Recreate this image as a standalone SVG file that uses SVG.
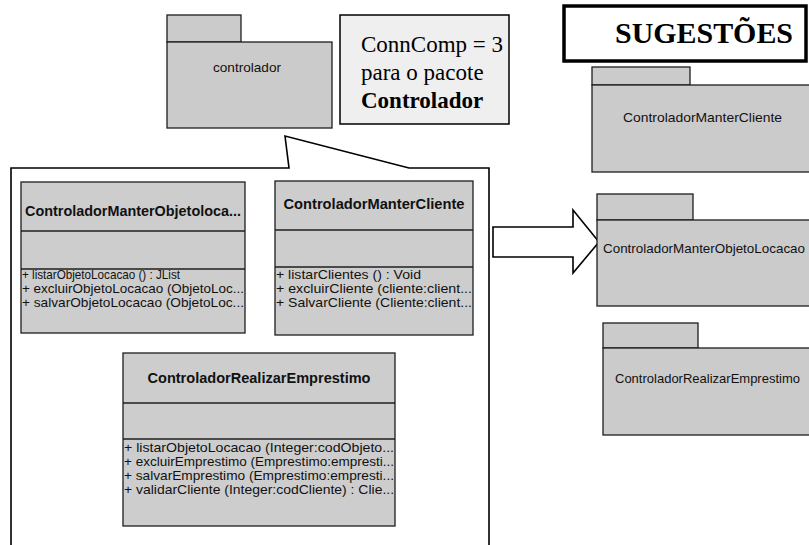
<svg xmlns="http://www.w3.org/2000/svg" width="809" height="545" viewBox="0 0 809 545">
  <style>
    .bg { fill: #ffffff; }
    .pkg { fill: #cbcbcb; stroke: #1e1e1e; stroke-width: 1.3; }
    .cls { fill: #cdcdcd; stroke: #1e1e1e; stroke-width: 1.3; }
    .sep { stroke: #1e1e1e; stroke-width: 1.3; }
    .line { fill: none; stroke: #000; stroke-width: 1.6; stroke-linejoin: miter; }
    .ui { font-family: "Liberation Sans", Arial, sans-serif; font-size: 13px; fill: #111; }
    .uib { font-family: "Liberation Sans", Arial, sans-serif; font-size: 14px; font-weight: bold; fill: #111; }
    .serif { font-family: "Liberation Serif", "Times New Roman", serif; fill: #000; }
  </style>

  <rect class="bg" x="0" y="0" width="809" height="545"/>

  <!-- package "controlador" -->
  <g id="pkg-controlador">
    <rect class="pkg" x="167" y="15" width="74" height="27"/>
    <rect class="pkg" x="167" y="42" width="165" height="86"/>
    <text class="ui" x="213" y="72" textLength="68" lengthAdjust="spacingAndGlyphs">controlador</text>
  </g>

  <!-- note box -->
  <g id="note-conncomp">
    <rect x="340" y="15" width="169" height="109" fill="#efefef" stroke="#000" stroke-width="1.5"/>
    <text class="serif" x="361" y="52" font-size="23">ConnComp = 3</text>
    <text class="serif" x="361" y="80" font-size="23">para o pacote</text>
    <text class="serif" x="361" y="108" font-size="23" font-weight="bold">Controlador</text>
  </g>

  <!-- title box -->
  <g id="title-sugestoes">
    <rect x="564" y="6" width="242" height="55" fill="#ffffff" stroke="#000" stroke-width="3.5"/>
    <text class="serif" x="704" y="43" font-size="29" font-weight="bold" text-anchor="middle" textLength="178" lengthAdjust="spacingAndGlyphs">SUGESTÕES</text>
  </g>

  <!-- connectors: zoom callout and block arrow -->
  <g id="connectors">
    <path class="line" d="M11,545 L11,168 L289,168 L285,136 L409,168 L489,168 L489,545"/>
    <path class="line" d="M493,227 L573,227 L573,210 L599,242 L573,273 L573,257 L493,257 Z" fill="#ffffff"/>
  </g>

  <!-- class ControladorManterObjetoLocacao -->
  <g id="cls-manter-objeto">
    <rect class="cls" x="21" y="182" width="224" height="151"/>
    <line class="sep" x1="21" y1="231" x2="245" y2="231"/>
    <line class="sep" x1="21" y1="269" x2="245" y2="269"/>
    <text class="uib" x="25" y="216" textLength="216" lengthAdjust="spacingAndGlyphs">ControladorManterObjetoloca...</text>
    <text class="ui" x="22" y="279" textLength="158" lengthAdjust="spacingAndGlyphs">+ listarObjetoLocacao () : JList</text>
    <text class="ui" x="22" y="293" textLength="222" lengthAdjust="spacingAndGlyphs">+ excluirObjetoLocacao (ObjetoLoc...</text>
    <text class="ui" x="22" y="307" textLength="222" lengthAdjust="spacingAndGlyphs">+ salvarObjetoLocacao (ObjetoLoc...</text>
  </g>

  <!-- class ControladorManterCliente -->
  <g id="cls-manter-cliente">
    <rect class="cls" x="275" y="181" width="198" height="154"/>
    <line class="sep" x1="275" y1="230" x2="473" y2="230"/>
    <line class="sep" x1="275" y1="267" x2="473" y2="267"/>
    <text class="uib" x="374" y="209" text-anchor="middle" textLength="181" lengthAdjust="spacingAndGlyphs">ControladorManterCliente</text>
    <text class="ui" x="276" y="279" textLength="145" lengthAdjust="spacingAndGlyphs">+ listarClientes () : Void</text>
    <text class="ui" x="276" y="293" textLength="196" lengthAdjust="spacingAndGlyphs">+ excluirCliente (cliente:client...</text>
    <text class="ui" x="276" y="307" textLength="196" lengthAdjust="spacingAndGlyphs">+ SalvarCliente (Cliente:client...</text>
  </g>

  <!-- class ControladorRealizarEmprestimo -->
  <g id="cls-realizar-emprestimo">
    <rect class="cls" x="123" y="353" width="272" height="173"/>
    <line class="sep" x1="123" y1="403" x2="395" y2="403"/>
    <line class="sep" x1="123" y1="439" x2="395" y2="439"/>
    <text class="uib" x="259" y="383" text-anchor="middle" textLength="223" lengthAdjust="spacingAndGlyphs">ControladorRealizarEmprestimo</text>
    <text class="ui" x="124" y="452" textLength="270" lengthAdjust="spacingAndGlyphs">+ listarObjetoLocacao (Integer:codObjeto...</text>
    <text class="ui" x="124" y="466" textLength="270" lengthAdjust="spacingAndGlyphs">+ excluirEmprestimo (Emprestimo:empresti...</text>
    <text class="ui" x="124" y="480" textLength="270" lengthAdjust="spacingAndGlyphs">+ salvarEmprestimo (Emprestimo:empresti...</text>
    <text class="ui" x="124" y="494" textLength="270" lengthAdjust="spacingAndGlyphs">+ validarCliente (Integer:codCliente) : Clie...</text>
  </g>

  <!-- suggested packages -->
  <g id="pkg-manter-cliente">
    <rect class="pkg" x="592" y="67" width="98" height="18"/>
    <rect class="pkg" x="592" y="85" width="220" height="87"/>
    <text class="ui" x="623" y="122" textLength="159" lengthAdjust="spacingAndGlyphs">ControladorManterCliente</text>
  </g>

  <g id="pkg-manter-objeto">
    <rect class="pkg" x="597" y="194" width="96" height="26"/>
    <rect class="pkg" x="597" y="220" width="215" height="86"/>
    <text class="ui" x="603" y="253" textLength="202" lengthAdjust="spacingAndGlyphs">ControladorManterObjetoLocacao</text>
  </g>

  <g id="pkg-realizar-emprestimo">
    <rect class="pkg" x="603" y="323" width="95" height="25"/>
    <rect class="pkg" x="603" y="348" width="209" height="87"/>
    <text class="ui" x="615" y="383" textLength="185" lengthAdjust="spacingAndGlyphs">ControladorRealizarEmprestimo</text>
  </g>
</svg>
